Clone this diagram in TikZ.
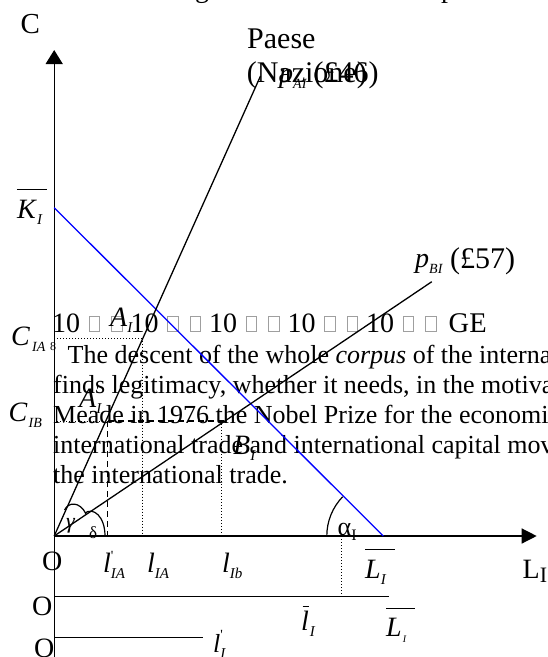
\documentclass[tikz,border=0pt]{standalone}
\usepackage{fontspec}
\setmainfont{Liberation Serif}
\usetikzlibrary{arrows.meta}
\newcommand\fs[1]{\fontsize{#1}{#1}\selectfont}
\newcommand\sbx[2][15]{\raisebox{-6pt}{\fs{#1}\textit{#2}}}
\newcommand\prm{\textquotesingle}
\begin{document}
\begin{tikzpicture}[x=1pt,y=1pt,
  axis/.style={line width=1.3pt},
  ray/.style={line width=1.3pt},
  dotl/.style={line width=1pt,dash pattern=on 1pt off 2pt},
  dashl/.style={line width=1.3pt,dash pattern=on 6pt off 4pt},
  ovl/.style={line width=1pt},
  lab/.style={inner sep=0pt,anchor=base west,font=\fs{28}},
  txt/.style={inner sep=0pt,anchor=base west,font=\fs{26}},
  gbox/.style={draw=gray!75,line width=0.7pt},
  angarc/.style={line width=1.2pt}]
\useasboundingbox (0,0) rectangle (548,-657);

% clipped line at the very top
\node[lab] (topg) at (195,2.8) {g};
\node[lab] (topp) at (441,2.8) {p};

% paragraph text
\node[lab,font=\fs{12}] (fn) at (50,-350) {8};
\node[txt] (t1) at (67.5,-363) {The descent of the whole \textit{corpus} of the interna};
\node[txt] (t2) at (53,-393) {finds legitimacy, whether it needs, in the motiva};
\node[txt] (t3) at (53,-423) {Meade in 1976 the Nobel Prize for the economic};
\node[txt] (t4) at (53,-453) {international trade and international capital mov};
\node[txt] (t5) at (53,-483) {the international trade.};

% row with missing glyph boxes
\foreach \k in {0,...,4}{
  \pgfmathsetmacro\xx{55+78.5*\k}
  \node[lab] (ten\k) at (\xx-3,-332.3) {10};
  \draw[gbox] (\xx+34.3,-316.5) rectangle (\xx+44.8,-331);
  \draw[gbox] (\xx+56.5,-316.5) rectangle (\xx+67,-331);
}
\node[lab,font=\fs{28.5}] (ge) at (448.5,-332.3) {GE};

% coordinates
\coordinate (O) at (54.2,-536);
\coordinate (ytip) at (54.2,-50);
\coordinate (ybot) at (54.2,-657);
\coordinate (xtip) at (536.7,-536);
\coordinate (Kb) at (54.2,-207.7);
\coordinate (Lb) at (383.3,-536);
\coordinate (PA) at (260.5,-76);
\coordinate (PB) at (431.8,-281.7);
\coordinate (CA) at (54.2,-338.8);
\coordinate (AA) at (142.4,-338.8);
\coordinate (lA) at (142.4,-536);
\coordinate (CB) at (54.2,-421);
\coordinate (AB) at (107.5,-421);
\coordinate (lAp) at (107.5,-536);
\coordinate (BB) at (225,-421);
\coordinate (BBt) at (221.5,-421);
\coordinate (lB) at (221.5,-536);
\coordinate (la) at (341.7,-536);
\coordinate (lb) at (341.7,-596.7);
\coordinate (O2) at (54.2,-596.7);
\coordinate (E2) at (389.3,-596.7);
\coordinate (O3) at (54.2,-637.3);
\coordinate (E3) at (202.7,-637.3);

% axes
\draw[axis,-{Triangle[length=14pt,width=17pt]}] (ybot) -- (ytip);
\draw[axis,-{Triangle[length=15pt,width=15pt]}] (O) -- (xtip);

% lines
\draw[ray,blue] (Kb) -- (Lb);
\draw[ray] (O) -- (PA);
\draw[ray] (O) -- (PB);
\draw[dotl] (CA) -- (AA) -- (lA);
\draw[dotl] (CB) -- (AB);
\draw[dashl] (AB) -- (BB);
\draw[dashl] (AB) -- (lAp);
\draw[dotl] (BBt) -- (lB);
\draw[dotl] (la) -- (lb);
\draw[axis] (O2) -- (E2);
\draw[axis] (O3) -- (E3);

% angle arcs
\draw[angarc] (Lb) ++(180:56.5pt) arc[start angle=180,end angle=136,radius=56.5pt];
\draw[angarc] (64.6,-510) .. controls (68,-502) and (80,-501) .. (86,-514);
\draw[angarc] (85,-513) .. controls (93,-507) and (105,-516) .. (105,-536);
\node[lab,font=\fs{22}\itshape] (gam) at (66,-528) {γ};
\node[lab,font=\fs{17}] (del) at (89,-538.5) {δ};

% labels
\node[lab,font=\fs{29}] (lC) at (20.3,-33.3) {C};
\node[lab,font=\fs{30}] (paese) at (247,-48.3) {Paese};
\node[lab,font=\fs{30}] (naz) at (246.6,-82.5) {(Nazione)};
\node[lab] (pAI) at (279,-82.5) {\textit{p}\sbx[14]{AI}};
\node[lab,font=\fs{30}] (pAIv) at (313.5,-82.5) {(£46)};
\node[lab] (pBI) at (415,-267) {\textit{p}\sbx[14]{BI}};
\node[lab,font=\fs{30}] (pBIv) at (450,-268) {(£57)};

\node[lab] (KI) at (17,-218) {\textit{K}\sbx{I}};
\draw[ovl] (16.8,-189.3) -- (47.2,-189.3);
\node[lab] (CIA) at (11,-345) {\textit{C}\hspace{2pt}\sbx[14]{IA}};
\node[lab] (CIB) at (8.5,-421.7) {\textit{C}\hspace{1pt}\sbx[14]{IB}};
\node[lab] (AI) at (110,-326) {\textit{A}\sbx{I}};
\node[lab] (AIp) at (79,-407) {\textit{A}\rlap{\raisebox{12pt}{\fs{14}\prm}}\sbx{I}};
\node[lab] (BI) at (233,-454) {\textit{B}\sbx{I}};

\node[lab] (O1l) at (42,-570) {O};
\node[lab] (O2l) at (32,-615) {O};
\node[lab] (O3l) at (34,-657) {O};

\node[lab] (lIAp) at (103,-572) {\textit{l}\rlap{\raisebox{12pt}{\fs{14}\prm}}\sbx{IA}};
\node[lab] (lIA) at (147,-572) {\textit{l}\sbx{IA}};
\node[lab] (lIb) at (222,-572) {\textit{l}\sbx{Ib}};
\node[lab,font=\fs{26}] (alpha) at (337.5,-535) {α\raisebox{-5pt}{\fs{16}I}};
\node[lab] (LI) at (365,-578) {\textit{L}\sbx{I}};
\draw[ovl] (365,-549.3) -- (395,-549.3);
\node[lab] (LIax) at (522.5,-578.3) {L\raisebox{-4pt}{\fs{22}I}};
\node[lab] (lbarI) at (301,-630) {\textit{l}\hspace{1pt}\sbx{I}};
\draw[ovl] (302.5,-606.7) -- (308.5,-606.7);
\node[lab] (LIp) at (386,-636.7) {\textit{L}\hspace{1pt}\sbx[10]{I}};
\draw[ovl] (386,-608.3) -- (415,-608.3);
\node[lab,font=\fs{26}] (lIp) at (213,-652) {\textit{l}\rlap{\raisebox{13pt}{\fs{14}\prm}}\sbx{I}};
\end{tikzpicture}
\end{document}
